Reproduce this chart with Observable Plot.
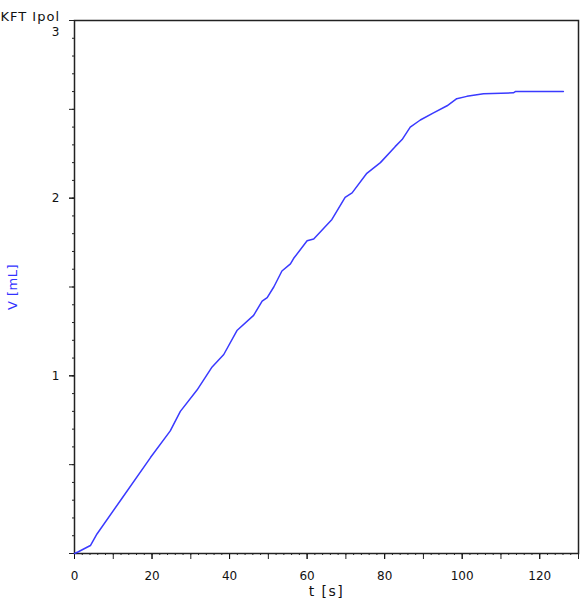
<!DOCTYPE html>
<html>
<head>
<meta charset="utf-8">
<script src="https://cdn.jsdelivr.net/npm/d3@7"></script>
<script src="https://cdn.jsdelivr.net/npm/@observablehq/plot@0.6"></script>
<style>
  html, body { margin: 0; padding: 0; background: #fff; }
  #chart svg { display: block; }
</style>
</head>
<body>
<div id="chart"></div>
<script>
const title = "KFT Ipol";
const xLabel = "t [s]";
const yLabel = "V [mL]";

const tValues = [0, 1, 4.1, 5.8, 11.9, 19.6, 24.7, 27.3, 31.6, 35.5, 38.5, 41.9, 46.2, 48.4, 49.7, 51.4, 53.5, 55.7, 56.5, 60, 61.7, 66.4, 69.8, 71.6, 75.4, 78.9, 82.7, 84.5, 86.6, 89.2, 92.6, 96.1, 98.6, 101.2, 105.5, 113.2, 113.7, 126.1];
const vValues = [0, 0.01, 0.045, 0.11, 0.30, 0.54, 0.69, 0.80, 0.92, 1.05, 1.12, 1.255, 1.34, 1.42, 1.44, 1.50, 1.59, 1.63, 1.66, 1.76, 1.77, 1.88, 2.005, 2.03, 2.14, 2.20, 2.29, 2.33, 2.40, 2.44, 2.48, 2.52, 2.56, 2.573, 2.588, 2.593, 2.60, 2.60];

const xTickLabels = [0, 20, 40, 60, 80, 100, 120];
const xMidTicks = [0, 10, 20, 30, 40, 50, 60, 70, 80, 90, 100, 110, 120, 130];
const yTickLabels = [1, 2];
const yTopLabel = [3];
const yMidTicks = [0, 0.5, 1, 1.5, 2, 2.5, 3];

const data = tValues.map((t, i) => ({t, v: vValues[i]}));

const xMinor = d3.range(0, 130.01, 2);
const yMinor = d3.range(0, 3.001, 0.1);

const font = "DejaVu Sans, Verdana, sans-serif";
const fmt = d3.format("d");

const chart = Plot.plot({
  width: 581,
  height: 606,
  marginLeft: 74,
  marginRight: 3,
  marginTop: 20,
  marginBottom: 53,
  style: {fontFamily: font, fontSize: "12px", background: "#fff", color: "#111"},
  x: {domain: [0, 130]},
  y: {domain: [0, 3]},
  marks: [
    Plot.axisX({ticks: xMinor, tickSize: 2, tickFormat: () => "", label: null, stroke: "#222"}),
    Plot.axisX({ticks: xMidTicks, tickSize: 6, tickFormat: () => "", label: null, stroke: "#222"}),
    Plot.axisX({ticks: xTickLabels, tickSize: 6, tickPadding: 12, tickFormat: fmt, label: null, fill: "#111", fontSize: 12}),
    Plot.axisY({ticks: yMinor, tickSize: 2, tickFormat: () => "", label: null, stroke: "#222"}),
    Plot.axisY({ticks: yMidTicks, tickSize: 5, tickFormat: () => "", label: null, stroke: "#222"}),
    Plot.axisY({ticks: yTickLabels, tickSize: 5, tickPadding: 10, tickFormat: fmt, label: null, fill: "#111", fontSize: 12}),
    Plot.axisY({ticks: yTopLabel, tickSize: 0, tickPadding: 15, tickFormat: fmt, dy: 12, label: null, fill: "#111", fontSize: 12}),
    Plot.frame({stroke: "#222", strokeWidth: 1.5}),
    Plot.line(data, {x: "t", y: "v", stroke: "#3a3aff", strokeWidth: 1.5}),
    Plot.text([title], {frameAnchor: "top-left", textAnchor: "start", dx: -74, dy: -9, fill: "#111", fontSize: 13}),
    Plot.text([xLabel], {frameAnchor: "bottom", textAnchor: "middle", dy: 42, fill: "#111", fontSize: 14}),
    Plot.text([yLabel], {frameAnchor: "left", textAnchor: "middle", dx: -62, rotate: -90, fill: "#3333ff", fontSize: 13})
  ]
});
const spacing = {[title]: "1px", [xLabel]: "1.5px", [yLabel]: "0.5px"};
d3.select(chart).selectAll("text").each(function() {
  const s = spacing[this.textContent];
  if (s) this.style.letterSpacing = s;
});
document.getElementById("chart").appendChild(chart);
</script>
</body>
</html>
